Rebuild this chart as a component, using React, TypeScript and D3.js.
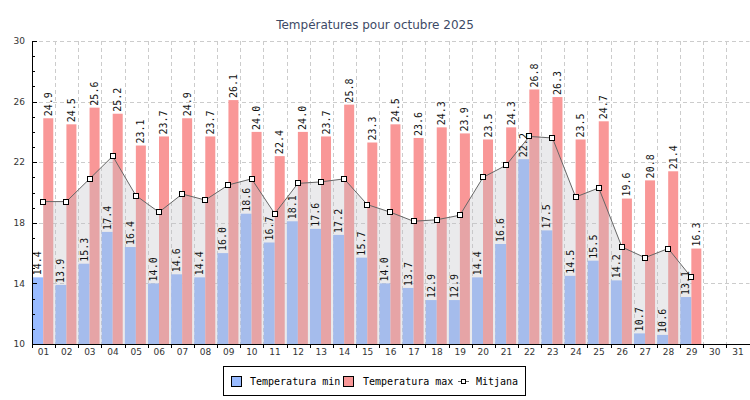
import React from 'react';
import * as d3 from 'd3';

const days = [
  '01', '02', '03', '04', '05', '06', '07', '08', '09', '10',
  '11', '12', '13', '14', '15', '16', '17', '18', '19', '20',
  '21', '22', '23', '24', '25', '26', '27', '28', '29', '30', '31',
];

const tempMin = [
  14.4, 13.9, 15.3, 17.4, 16.4, 14.0, 14.6, 14.4, 16.0, 18.6,
  16.7, 18.1, 17.6, 17.2, 15.7, 14.0, 13.7, 12.9, 12.9, 14.4,
  16.6, 22.2, 17.5, 14.5, 15.5, 14.2, 10.7, 10.6, 13.1,
];

const tempMax = [
  24.9, 24.5, 25.6, 25.2, 23.1, 23.7, 24.9, 23.7, 26.1, 24.0,
  22.4, 24.0, 23.7, 25.8, 23.3, 24.5, 23.6, 24.3, 23.9, 23.5,
  24.3, 26.8, 26.3, 23.5, 24.7, 19.6, 20.8, 21.4, 16.3,
];

const tempMean = [
  19.4, 19.4, 20.9, 22.4, 19.8, 18.7, 19.9, 19.5, 20.5, 20.9,
  18.6, 20.6, 20.7, 20.9, 19.2, 18.7, 18.1, 18.2, 18.5, 21.0,
  21.8, 23.7, 23.6, 19.7, 20.3, 16.4, 15.7, 16.3, 14.4,
];

const yMajorTicks = [10, 14, 18, 22, 26, 30];

const W = 750;
const H = 400;
const plot = { left: 32, right: 749.5, top: 41, bottom: 344 };

const RED = '#f99797';
const BLUE = '#99bbff';
const MONO = '"DejaVu Sans Mono", monospace';
const SANS = '"DejaVu Sans", sans-serif';

export default function App() {
  const x = d3.scaleBand().domain(days).range([plot.left, plot.right]).padding(0);
  const y = d3.scaleLinear().domain([10, 30]).range([plot.bottom, plot.top]);
  const bw = x.bandwidth();
  const center = (d: string) => (x(d) || 0) + bw / 2 - 0.3;

  const minorTicks = d3.range(10, 31, 1).filter((t) => !yMajorTicks.includes(t));
  const boundaries = days.map((d) => (x(d) || 0) + bw).concat([plot.left]);

  const meanPts = tempMean.map((v, i) => [center(days[i]), y(v)] as [number, number]);
  const line = d3.line()(meanPts) || '';
  const area =
    d3
      .area<[number, number]>()
      .x((p) => p[0])
      .y0(plot.bottom)
      .y1((p) => p[1])(meanPts) || '';

  const labelStyle = { fontFamily: MONO, fontSize: 10, fill: '#111' };

  return (
    <svg
      width={W}
      height={H}
      style={{ position: 'absolute', left: 0, top: 0, background: '#fff' }}
    >
      {/* Title */}
      <text
        x={W / 2}
        y={29}
        textAnchor="middle"
        style={{ fontFamily: SANS, fontSize: 12, fill: '#3d4a66' }}
      >
        Températures pour octubre 2025
      </text>

      {/* Grid */}
      <g stroke="#cccccc" strokeDasharray="4,3" strokeWidth={1}>
        {yMajorTicks.map((t) => (
          <line key={'h' + t} x1={plot.left} x2={plot.right} y1={Math.round(y(t)) + 0.5} y2={Math.round(y(t)) + 0.5} />
        ))}
        {boundaries.map((bx, i) => (
          <line key={'v' + i} x1={Math.round(bx) + 0.5} x2={Math.round(bx) + 0.5} y1={plot.top} y2={plot.bottom} />
        ))}
      </g>

      {/* Bars */}
      {tempMin.map((v, i) => {
        const c = center(days[i]);
        return (
          <rect key={'mn' + i} x={c - 11} y={y(v)} width={11} height={plot.bottom - y(v)} fill={BLUE} />
        );
      })}
      {tempMax.map((v, i) => {
        const c = center(days[i]);
        return (
          <rect key={'mx' + i} x={c} y={y(v)} width={10} height={plot.bottom - y(v)} fill={RED} />
        );
      })}

      {/* Mean area + line */}
      <path d={area} fill="rgb(190,190,196)" fillOpacity={0.33} />
      <path d={line} fill="none" stroke="#666" strokeWidth={1} />
      {meanPts.map((p, i) => (
        <rect
          key={'pt' + i}
          x={Math.round(p[0]) - 2.5}
          y={Math.round(p[1]) - 2.5}
          width={5}
          height={5}
          fill="#fff"
          stroke="#000"
          strokeWidth={1}
        />
      ))}

      {/* Value labels */}
      {tempMin.map((v, i) => {
        const cx = center(days[i]) - 5.5;
        const ty = y(v) - 2;
        return (
          <text key={'lmn' + i} transform={`translate(${cx},${ty}) rotate(-90)`} dy="0.35em" style={labelStyle}>
            {v.toFixed(1)}
          </text>
        );
      })}
      {tempMax.map((v, i) => {
        const cx = center(days[i]) + 5;
        const ty = y(v) - 2;
        return (
          <text key={'lmx' + i} transform={`translate(${cx},${ty}) rotate(-90)`} dy="0.35em" style={labelStyle}>
            {v.toFixed(1)}
          </text>
        );
      })}

      {/* Axes */}
      <g stroke="#000" strokeWidth={1}>
        <line x1={plot.left + 0.5} x2={plot.left + 0.5} y1={plot.top} y2={plot.bottom + 0.5} />
        <line x1={plot.left} x2={W} y1={plot.bottom + 0.5} y2={plot.bottom + 0.5} />
        {yMajorTicks.map((t) => (
          <line key={'ytm' + t} x1={plot.left} x2={plot.left + 5} y1={Math.round(y(t)) + 0.5} y2={Math.round(y(t)) + 0.5} />
        ))}
        {minorTicks.map((t) => (
          <line key={'ytn' + t} x1={plot.left} x2={plot.left + 3} y1={Math.round(y(t)) + 0.5} y2={Math.round(y(t)) + 0.5} />
        ))}
        {boundaries.map((bx, i) => (
          <line key={'xt' + i} x1={Math.round(bx) + 0.5} x2={Math.round(bx) + 0.5} y1={plot.bottom} y2={plot.bottom + 4} />
        ))}
      </g>
      {yMajorTicks.map((t) => (
        <text
          key={'yl' + t}
          x={25}
          y={y(t)}
          dy="0.35em"
          textAnchor="end"
          style={{ fontFamily: SANS, fontSize: 9, fill: '#333' }}
        >
          {t}
        </text>
      ))}
      {days.map((d) => (
        <text
          key={'xl' + d}
          x={(x(d) || 0) + bw / 2}
          y={355}
          textAnchor="middle"
          style={{ fontFamily: SANS, fontSize: 9, fill: '#333' }}
        >
          {d}
        </text>
      ))}

      {/* Legend */}
      <g>
        <rect x={223.5} y={366.5} width={302} height={29} fill="#fff" stroke="#000" strokeWidth={1} />
        <rect x={231.5} y={376.5} width={10} height={10} fill={BLUE} stroke="#000" strokeWidth={1} />
        <text x={250} y={385} style={{ fontFamily: MONO, fontSize: 10, fill: '#000' }}>
          Temperatura min
        </text>
        <rect x={343.5} y={376.5} width={10} height={10} fill={RED} stroke="#000" strokeWidth={1} />
        <text x={363} y={385} style={{ fontFamily: MONO, fontSize: 10, fill: '#000' }}>
          Temperatura max
        </text>
        <line x1={458} x2={469} y1={381.5} y2={381.5} stroke="#666" strokeWidth={1} />
        <rect x={461.5} y={379.5} width={4} height={4} fill="#fff" stroke="#000" strokeWidth={1} />
        <text x={476} y={385} style={{ fontFamily: MONO, fontSize: 10, fill: '#000' }}>
          Mitjana
        </text>
      </g>
    </svg>
  );
}
